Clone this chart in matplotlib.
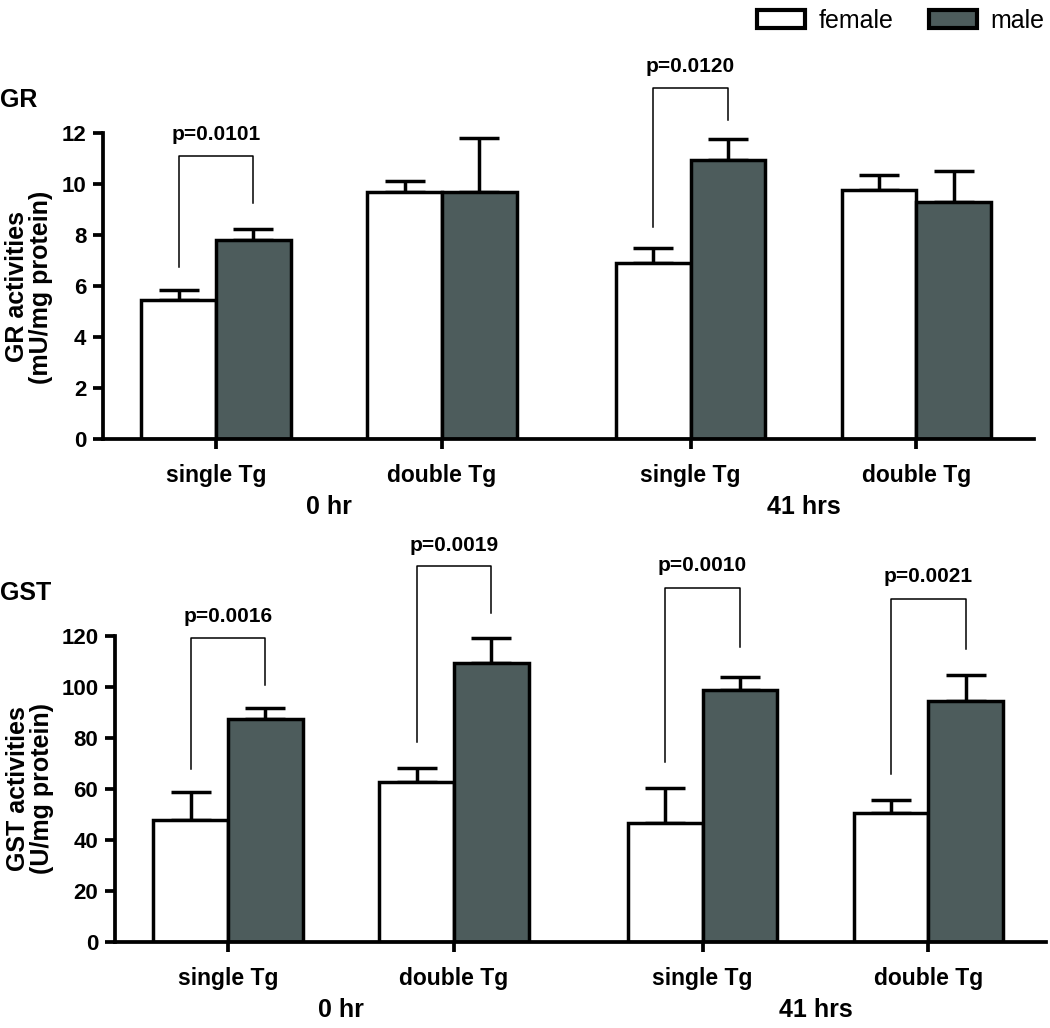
import matplotlib
matplotlib.use("Agg")
import matplotlib.pyplot as plt
import numpy as np
from matplotlib.patches import Patch

plt.rcParams['font.family'] = ['Liberation Sans', 'DejaVu Sans']

# ---- data ----
groups = ["single Tg", "double Tg", "single Tg", "double Tg"]
time_labels = ["0 hr", "41 hrs"]
series = ["female", "male"]

gr_female = [5.45, 9.7, 6.9, 9.75]
gr_female_err = [0.4, 0.4, 0.6, 0.6]
gr_male = [7.8, 9.7, 10.95, 9.3]
gr_male_err = [0.45, 2.1, 0.8, 1.2]

gst_female = [47.9, 62.6, 46.8, 50.5]
gst_female_err = [10.8, 5.7, 13.5, 5.0]
gst_male = [87.4, 109.5, 98.8, 94.4]
gst_male_err = [4.2, 9.6, 5.3, 10.3]

# significance annotations: (group index, p text, left leg bottom, bracket top, right leg bottom, text y)
gr_sig = [(0, "p=0.0101", 6.75, 11.1, 9.25, 11.95),
          (2, "p=0.0120", 8.3, 13.75, 12.5, 14.6)]
gst_sig = [(0, "p=0.0016", 67.7, 119.3, 100.7, 127.7),
           (1, "p=0.0019", 78.5, 147.4, 129.0, 155.5),
           (2, "p=0.0010", 70.4, 139.0, 115.7, 147.8),
           (3, "p=0.0021", 65.9, 134.7, 114.8, 143.4)]

pos = np.array([0.0, 1.0, 2.1, 3.1])
W = 0.33
male_color = "#4d5c5c"
LW = 2.5

fig = plt.figure(figsize=(10.5, 10.28), dpi=100)
FW, FH = 1050, 1028


def make_axes(left_px, zero_px, top_px, right_px):
    return fig.add_axes([left_px / FW, (FH - zero_px) / FH,
                         (right_px - left_px) / FW, (zero_px - top_px) / FH])


def draw_panel(ax, fem, fem_err, mal, mal_err, ymax_spine, ymax, ystep, sig):
    ax.bar(pos - W, fem, W, align='edge', color='white', edgecolor='black',
           linewidth=LW, zorder=2)
    ax.bar(pos, mal, W, align='edge', color=male_color, edgecolor='black',
           linewidth=LW, zorder=2)
    ax.errorbar(pos - W / 2, fem, yerr=[np.zeros(len(fem)), fem_err], fmt='none',
                ecolor='black', elinewidth=LW, capsize=14.5, capthick=LW, zorder=1)
    ax.errorbar(pos + W / 2, mal, yerr=[np.zeros(len(mal)), mal_err], fmt='none',
                ecolor='black', elinewidth=LW, capsize=14.5, capthick=LW, zorder=1)
    for gi, txt, yl, yt, yr, ytxt in sig:
        xl = pos[gi] - W / 2
        xr = pos[gi] + W / 2
        ax.plot([xl, xl, xr, xr], [yl, yt, yt, yr], color='black', lw=1.1,
                clip_on=False)
        ax.text(pos[gi], ytxt, txt, ha='center', va='center', fontsize=15,
                fontweight='bold')
    ax.set_xlim(-0.5, 3.62)
    ax.set_ylim(0, ymax)
    ax.spines['top'].set_visible(False)
    ax.spines['right'].set_visible(False)
    ax.spines['left'].set_bounds(0, ymax_spine)
    for s in ['left', 'bottom']:
        ax.spines[s].set_linewidth(LW + 0.2)
    ax.set_yticks(np.arange(0, ymax_spine + ystep / 2, ystep))
    ax.set_xticks(pos)
    ax.set_xticklabels(groups)
    ax.tick_params(axis='both', length=7, width=LW + 0.2, labelsize=16)
    ax.tick_params(axis='y', pad=5)
    ax.tick_params(axis='x', pad=11, labelsize=16.5)
    for lab in ax.get_xticklabels() + ax.get_yticklabels():
        lab.set_fontweight('bold')
    ax.patch.set_visible(False)


# top panel: GR
ax1 = make_axes(103, 439, 56.5, 1034)
draw_panel(ax1, gr_female, gr_female_err, gr_male, gr_male_err, 12, 15, 2, gr_sig)
# bottom panel: GST
ax2 = make_axes(115, 942, 534, 1046)
draw_panel(ax2, gst_female, gst_female_err, gst_male, gst_male_err, 120, 160, 20, gst_sig)

# time labels
for ax, ypx in [(ax1, 507), (ax2, 1010)]:
    for k, t in enumerate(time_labels):
        xc = (pos[2 * k] + pos[2 * k + 1]) / 2
        xf = ax.transData.transform((xc, 0))[0] / FW
        fig.text(xf, 1 - ypx / FH, t, ha='center', va='center', fontsize=18,
                 fontweight='bold')

# y labels
fig.text(29 / FW, 1 - 287 / FH, "GR activities\n(mU/mg protein)", rotation=90,
         ha='center', va='center', fontsize=18, fontweight='bold', linespacing=1.0)
fig.text(30 / FW, 1 - 789 / FH, "GST activities\n(U/mg protein)", rotation=90,
         ha='center', va='center', fontsize=18, fontweight='bold', linespacing=1.0)

# panel titles
fig.text(0 / FW, 1 - 100 / FH, "GR", ha='left', va='center', fontsize=18,
         fontweight='bold')
fig.text(0 / FW, 1 - 593 / FH, "GST", ha='left', va='center', fontsize=18,
         fontweight='bold')

# legend
handles = [Patch(facecolor='white', edgecolor='black', linewidth=LW + 0.5, label=series[0]),
           Patch(facecolor=male_color, edgecolor='black', linewidth=LW + 0.5, label=series[1])]
fig.legend(handles=handles, loc='center left', bbox_to_anchor=(757 / FW, 1 - 21 / FH),
           ncol=2, frameon=False, fontsize=18, handlelength=1.9, handleheight=0.72,
           columnspacing=1.45, handletextpad=0.55, borderaxespad=0, borderpad=0)

fig.savefig("out.png", dpi=100)
